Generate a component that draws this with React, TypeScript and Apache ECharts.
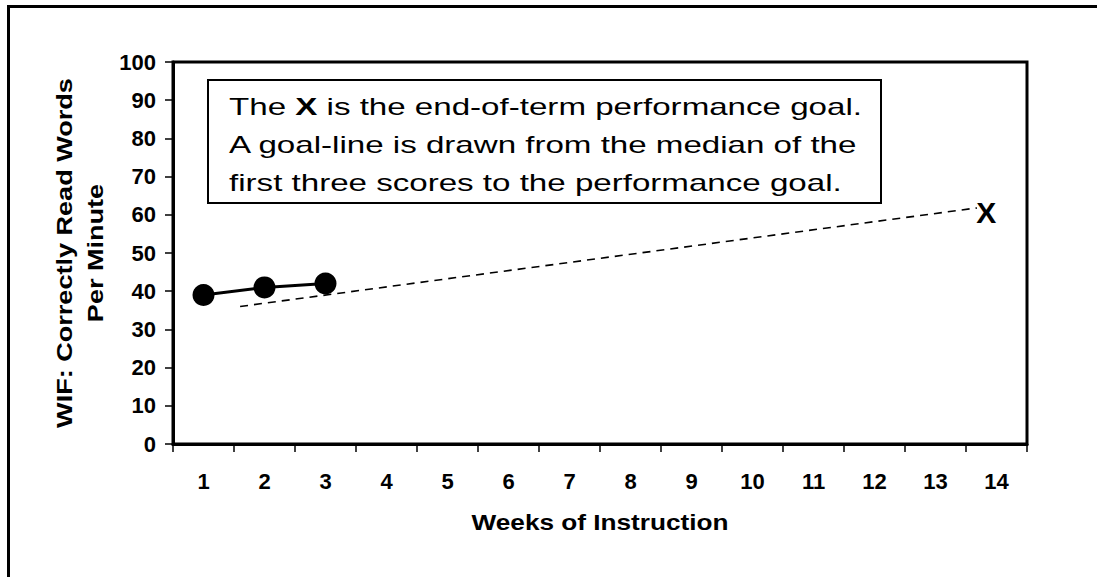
import React, { useEffect, useRef } from "react";
import * as echarts from "echarts";

const weeks = ["1", "2", "3", "4", "5", "6", "7", "8", "9", "10", "11", "12", "13", "14"];
const scores = [39, 41, 42];
const goalLineX = [1.6, 13.68];
const goalLineY = [36, 61.8];
const goalMark = [13.83, 60.7];
const yMin = 0;
const yMax = 100;
const yStep = 10;
const yTitle = ["WIF: Correctly Read Words", "Per Minute"];
const xTitle = "Weeks of Instruction";
const noteLines = [
  "{n|The }{b|X}{n| is the end-of-term performance goal.}",
  "A goal-line is drawn from the median of the",
  "first three scores to the performance goal.",
];

const FONT = '"Liberation Sans", Arial, sans-serif';

export default function App() {
  const ref = useRef<HTMLDivElement>(null);
  useEffect(() => {
    document.body.style.overflow = "hidden";
    const chart = echarts.init(ref.current!, null, { renderer: "svg" });
    const option: any = {
      animation: false,
      backgroundColor: "#fff",
      grid: {
        left: 173,
        top: 62,
        width: 854,
        height: 382,
        show: true,
        borderColor: "#000",
        borderWidth: 3,
        backgroundColor: "transparent",
      },
      xAxis: [
        {
          type: "category",
          data: weeks,
          boundaryGap: true,
          axisLine: { show: true, lineStyle: { color: "#000", width: 3 } },
          axisTick: { show: true, inside: false, length: 8, lineStyle: { color: "#000", width: 1.5 } },
          axisLabel: { color: "#000", fontFamily: FONT, fontWeight: "bold", fontSize: 22, margin: 26 },
          splitLine: { show: false },
        },
        {
          type: "value",
          min: 0.5,
          max: 14.5,
          show: false,
          splitLine: { show: false },
        },
      ],
      yAxis: {
        type: "value",
        min: yMin,
        max: yMax,
        interval: yStep,
        axisLine: { show: true, lineStyle: { color: "#000", width: 3 } },
        axisTick: { show: true, inside: false, length: 8, lineStyle: { color: "#000", width: 1.5 } },
        axisLabel: { color: "#000", fontFamily: FONT, fontWeight: "bold", fontSize: 22, margin: 17 },
        splitLine: { show: false },
      },
      series: [
        {
          type: "line",
          xAxisIndex: 1,
          data: [
            [goalLineX[0], goalLineY[0]],
            [goalLineX[1], goalLineY[1]],
          ],
          symbol: "none",
          lineStyle: { color: "#000", width: 1.6, type: [8, 6] },
          z: 2,
        },
        {
          type: "scatter",
          xAxisIndex: 1,
          data: [goalMark],
          symbol: "circle",
          symbolSize: 0,
          itemStyle: { color: "#000" },
          label: {
            show: true,
            position: "inside",
            formatter: "X",
            color: "#000",
            opacity: 1,
            fontFamily: FONT,
            fontWeight: "bold",
            fontSize: 30,
          },
          z: 3,
        },
        {
          type: "line",
          xAxisIndex: 0,
          data: scores,
          symbol: "circle",
          symbolSize: 22,
          itemStyle: { color: "#000" },
          lineStyle: { color: "#000", width: 3 },
          z: 4,
        },
      ],
      graphic: [
        {
          type: "line",
          silent: true,
          shape: { x1: 8.5, y1: 5, x2: 8.5, y2: 577 },
          style: { stroke: "#000", lineWidth: 3 },
        },
        {
          type: "line",
          silent: true,
          shape: { x1: 7, y1: 6.5, x2: 1097, y2: 6.5 },
          style: { stroke: "#000", lineWidth: 3 },
        },
        {
          type: "rect",
          silent: true,
          z: 10,
          shape: { x: 208, y: 80, width: 673, height: 123 },
          style: { fill: "#fff", stroke: "#000", lineWidth: 2 },
        },
        ...noteLines.map((t, i) => ({
          type: "text",
          silent: true,
          z: 11,
          x: 229,
          y: 107 + i * 38,
          scaleX: 1.38,
          style: {
            text: t,
            fill: "#000",
            fontSize: 24,
            fontFamily: FONT,
            align: "left",
            verticalAlign: "middle",
            rich: {
              n: { fontSize: 24, fontFamily: FONT, fill: "#000" },
              b: { fontSize: 24, fontFamily: FONT, fontWeight: "bold", fill: "#000" },
            },
          },
        })),
        ...yTitle.map((t, i) => ({
          type: "text",
          silent: true,
          x: 64 + i * 31,
          y: 253,
          rotation: Math.PI / 2,
          scaleX: 1.23,
          style: {
            text: t,
            fill: "#000",
            fontSize: 22,
            fontWeight: "bold",
            fontFamily: FONT,
            align: "center",
            verticalAlign: "middle",
          },
        })),
        {
          type: "text",
          silent: true,
          x: 600,
          y: 522,
          scaleX: 1.19,
          style: {
            text: xTitle,
            fill: "#000",
            fontSize: 22,
            fontWeight: "bold",
            fontFamily: FONT,
            align: "center",
            verticalAlign: "middle",
          },
        },
      ],
    };
    chart.setOption(option);
    return () => {
      chart.dispose();
    };
  }, []);
  return (
    <div
      ref={ref}
      style={{ position: "absolute", left: 0, top: 0, width: 1099, height: 577, overflow: "hidden" }}
    />
  );
}
